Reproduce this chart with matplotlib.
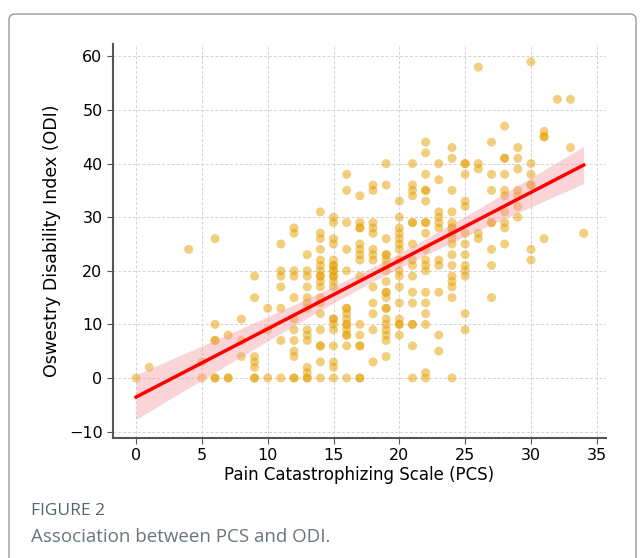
import numpy as np
import matplotlib.pyplot as plt
from matplotlib.patches import FancyBboxPatch

# PCS score -> list of ODI scores
pcs_odi = {
    0: [0],
    1: [2],
    4: [24],
    5: [3, 0],
    6: [26, 10, 7, 7, 0, 0],
    7: [8, 0, 0],
    8: [11, 7, 4],
    9: [19, 15, 4, 3, 2, 0, 0],
    10: [13, 9, 0],
    11: [25, 20, 19, 17, 13, 7, 0],
    12: [28, 27, 20, 19, 15, 11, 9, 7, 5, 4, 0, 0],
    13: [23, 20, 19, 17, 15, 14, 13, 9, 8, 7, 2, 1, 0, 0],
    14: [31, 27, 26, 24, 22, 21, 20, 19, 19, 18, 17, 15, 14, 12, 9, 6, 6, 3, 0],
    15: [30, 29, 26, 25, 22, 21, 21, 20, 20, 19, 19, 18, 17, 11, 11, 10, 9, 6, 3, 2, 0],
    16: [38, 35, 29, 24, 20, 13, 13, 12, 11, 10, 10, 9, 8, 8, 6, 0],
    17: [34, 29, 28, 28, 25, 24, 23, 22, 19, 10, 8, 6, 6, 0, 0],
    18: [36, 35, 29, 28, 27, 24, 23, 22, 17, 14, 12, 9, 3],
    19: [40, 36, 26, 23, 23, 22, 21, 20, 18, 16, 16, 15, 13, 13, 11, 10, 9, 8, 7, 4],
    20: [33, 30, 28, 27, 26, 25, 24, 22, 20, 19, 17, 14, 11, 10, 10, 8],
    21: [40, 36, 35, 34, 29, 29, 25, 22, 21, 19, 16, 14, 10, 10, 6, 0],
    22: [44, 42, 38, 35, 35, 33, 29, 29, 27, 24, 22, 21, 20, 16, 14, 12, 10, 1, 0],
    23: [40, 37, 31, 30, 29, 28, 22, 21, 16, 8, 5],
    24: [43, 41, 35, 31, 29, 28, 28, 27, 26, 25, 23, 21, 19, 18, 17, 15, 0],
    25: [40, 40, 38, 33, 32, 27, 25, 23, 21, 20, 19, 12, 9],
    26: [58, 40, 39, 27, 26],
    27: [44, 38, 35, 29, 29, 24, 21, 15],
    28: [47, 41, 41, 38, 35, 34, 31, 29, 28, 25],
    29: [43, 41, 39, 35, 34, 32, 30],
    30: [59, 40, 38, 36, 36, 24, 22],
    31: [46, 45, 45, 26],
    32: [52],
    33: [52, 43],
    34: [27],
}

pcs = np.array([k for k, v in pcs_odi.items() for _ in v], dtype=float)
odi = np.array([y for v in pcs_odi.values() for y in v], dtype=float)

fig = plt.figure(figsize=(6.44, 5.58), dpi=100)
ax = fig.add_axes([0.1755, 0.215, 0.7655, 0.706])

ax.scatter(pcs, odi, s=42, color="#E69F00", alpha=0.5, edgecolors="none", zorder=2)

# linear fit with confidence band
slope, intercept = np.polyfit(pcs, odi, 1)
xs = np.linspace(pcs.min(), pcs.max(), 100)
ys = intercept + slope * xs
n = len(pcs)
resid = odi - (intercept + slope * pcs)
s_err = np.sqrt(np.sum(resid ** 2) / (n - 2))
se = s_err * np.sqrt(1 / n + (xs - pcs.mean()) ** 2 / np.sum((pcs - pcs.mean()) ** 2))
ax.fill_between(xs, ys - 2.4 * se, ys + 2.4 * se, color="#F4A0A8", alpha=0.45,
                linewidth=0, zorder=3)
ax.plot(xs, ys, color="red", linewidth=2.5, zorder=4)

ax.set_xlim(-1.75, 35.7)
ax.set_ylim(-11.2, 62.3)
ax.set_xticks(range(0, 36, 5))
ax.set_yticks(range(-10, 61, 10))
ax.grid(True, linestyle=(0, (3, 2)), color="#d2d2d2", linewidth=0.7, zorder=0)
ax.set_axisbelow(True)
for side in ["top", "right"]:
    ax.spines[side].set_visible(False)
for side in ["left", "bottom"]:
    ax.spines[side].set_color("#555555")
    ax.spines[side].set_linewidth(1.5)
ax.tick_params(labelsize=11.5, color="#555555", length=4)
ax.set_xlabel("Pain Catastrophizing Scale (PCS)", fontsize=12, labelpad=2)
ax.set_ylabel("Oswestry Disability Index (ODI)", fontsize=12.5, labelpad=6)

# outer frame and caption
frame = FancyBboxPatch((9 / 644, -0.05), 627 / 644, 1 - 14 / 558 + 0.05,
                       boxstyle="round,pad=0,rounding_size=0.01",
                       transform=fig.transFigure, fill=False,
                       edgecolor="#999999", linewidth=1.0)
fig.patches.append(frame)
fig.text(31 / 644, 1 - 511 / 558, "FIGURE 2", fontsize=12.5, color="#56636c",
         family="Open Sans", va="center")
fig.text(31 / 644, 1 - 537 / 558, "Association between PCS and ODI.", fontsize=13.5,
         color="#6b747b", family="Open Sans", va="center")

fig.savefig("out.png", dpi=100)
